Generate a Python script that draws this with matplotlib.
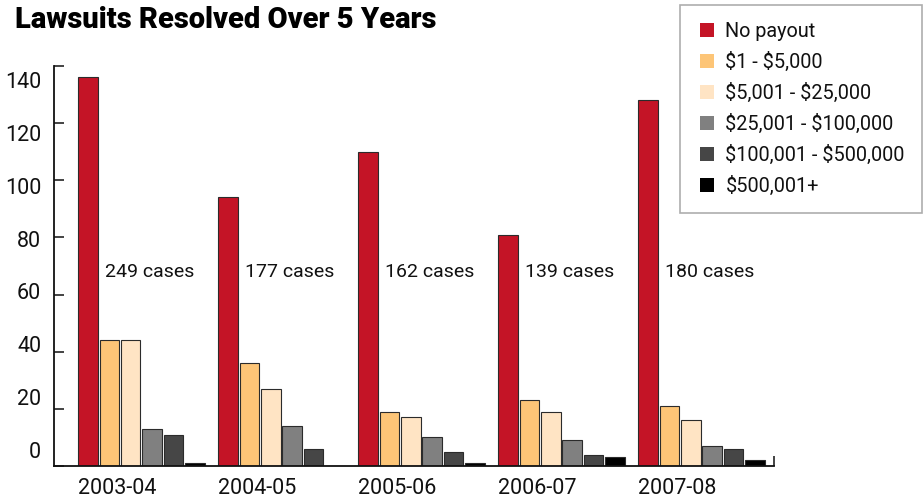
import matplotlib.pyplot as plt
from matplotlib.lines import Line2D
import numpy as np

plt.rcParams['font.family'] = ['Roboto', 'DejaVu Sans']
plt.rcParams['text.parse_math'] = False

# Data
seasons = ['2003-04', '2004-05', '2005-06', '2006-07', '2007-08']
payout_bins = ['No payout', '$1 - $5,000', '$5,001 - $25,000',
               '$25,001 - $100,000', '$100,001 - $500,000', '$500,001+']
no_payout = [136, 94, 110, 81, 128]
up_to_5k = [44, 36, 19, 23, 21]
up_to_25k = [44, 27, 17, 19, 16]
up_to_100k = [13, 14, 10, 9, 7]
up_to_500k = [11, 6, 5, 4, 6]
over_500k = [1, 0, 1, 3, 2]
y_ticks = [0, 20, 40, 60, 80, 100, 120, 140]

series = [no_payout, up_to_5k, up_to_25k, up_to_100k, up_to_500k, over_500k]
colors = ['#C41426', '#FDC577', '#FFE4C4', '#808080', '#464646', '#000000']

fig = plt.figure(figsize=(9.24, 4.98), dpi=100)
ax = fig.add_axes([0.0588, 0.0643, 0.7792, 0.8032])

group_x = np.arange(len(seasons))
pitch = 0.1527
width = 0.139
for j, vals in enumerate(series):
    ax.bar(group_x + j * pitch + width / 2, vals, width=width, color=colors[j],
           edgecolor='#2b2b2b', linewidth=0.8, label=payout_bins[j])

# case totals next to the red bar
totals = np.sum(series, axis=0)
for i, tot in enumerate(totals):
    ax.text(group_x[i] + 0.19, 68, f'{tot} cases', ha='left', va='center',
            fontsize=14, color='#111111')

ax.set_xlim(-0.171, 4.971)
ax.set_ylim(0, 140)

for side in ['top', 'right']:
    ax.spines[side].set_visible(False)
for side in ['left', 'bottom']:
    ax.spines[side].set_linewidth(1.3)
    ax.spines[side].set_color('#111111')

# tick marks at the values, labels drawn slightly off as in the source
ax.set_yticks(y_ticks)
ax.set_yticklabels([])
ax.tick_params(axis='y', which='major', direction='in', length=7.5, width=1.1,
               color='#111111')
ax.set_yticks([5.6 + 0.925 * v for v in y_ticks], minor=True)
ax.set_yticklabels([str(v) for v in y_ticks], minor=True)
ax.tick_params(axis='y', which='minor', length=0, pad=9.5, labelsize=15.5,
               labelcolor='#111111')

ax.set_xticks(group_x)
ax.set_xticklabels(seasons, ha='left')
ax.tick_params(axis='x', which='major', length=0, pad=9, labelsize=15.5,
               labelcolor='#111111')
ax.set_xticks([ax.get_xlim()[1]], minor=True)
ax.tick_params(axis='x', which='minor', direction='in', length=7.5, width=1.1,
               color='#111111')

fig.text(15 / 924, 1 - 27.7 / 498, 'Lawsuits Resolved Over 5 Years',
         fontsize=21, fontweight='heavy', ha='left', va='baseline', color='#000000')

handles = [Line2D([], [], marker='s', linestyle='none', markersize=10,
                  markerfacecolor=c, markeredgewidth=0) for c in colors]
leg = fig.legend(handles, payout_bins, loc='upper right',
                 bbox_to_anchor=(921.7 / 924, 1 - 5 / 498), borderaxespad=0,
                 fontsize=14.3, frameon=True, fancybox=False, handlelength=1.0,
                 handletextpad=0.45, borderpad=0.85, labelspacing=0.55)
leg.get_frame().set_edgecolor('#999999')
leg.get_frame().set_linewidth(1.2)
for t in leg.get_texts():
    t.set_color('#111111')

fig.savefig('out.png', dpi=100)
